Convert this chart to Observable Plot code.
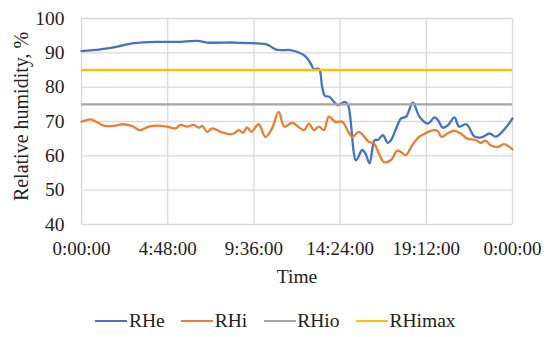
<!DOCTYPE html>
<html>
<head>
<meta charset="utf-8">
<script src="https://cdn.jsdelivr.net/npm/d3@7"></script>
<script src="https://cdn.jsdelivr.net/npm/@observablehq/plot@0.6"></script>
<style>
  body { margin: 0; background: #fff; }
  #chart, #chart * { font-family: "Liberation Serif", "Times New Roman", Tinos, "DejaVu Serif", serif !important; }
  #chart { width: 550px; height: 337px; position: relative; }
  .legend { display: flex; justify-content: center; align-items: center; font-size: 19.5px; color: #222; margin-top: 20px; margin-left: 1px; line-height: 22px; }
  .legend .item { display: flex; align-items: center; margin: 0 8.25px; }
  .legend .sw { width: 32px; height: 0; border-top: 2.5px solid; margin-right: 1.5px; }
</style>
</head>
<body>
<div id="chart"></div>
<script>
// Time in hours from midnight
const rheTime = [0, 1.06, 1.99, 2.91, 4.2, 5.33, 6.44, 7.0, 8.48, 9.6, 10.34, 10.8, 11.17, 11.64, 12.1, 12.47, 12.75, 12.94, 13.22, 13.4, 13.55, 13.8, 14.27, 14.65, 14.84, 15.29, 15.63, 15.81, 16.04, 16.32, 16.5, 16.78, 17.06, 17.24, 17.8, 18.08, 18.45, 18.82, 19.29, 19.66, 19.85, 20.12, 20.4, 20.77, 21.02, 21.43, 21.89, 22.27, 22.73, 23.07, 23.67, 24.0];
const rheValue = [90.5, 91.0, 91.8, 92.8, 93.2, 93.2, 93.5, 93.0, 93.0, 92.8, 92.4, 91.0, 90.8, 90.8, 90.1, 89.0, 87.0, 85.3, 85.3, 80.1, 77.5, 77.2, 74.8, 75.7, 74.8, 58.7, 61.7, 60.7, 57.8, 64.6, 64.6, 66.0, 63.8, 64.6, 70.9, 71.4, 75.5, 71.4, 69.4, 71.2, 70.4, 68.2, 68.9, 71.2, 68.5, 69.2, 65.6, 65.4, 66.5, 65.6, 68.5, 70.9];

const rhiTime = [0, 0.5, 1.24, 1.8, 2.27, 2.82, 3.25, 3.75, 4.22, 4.77, 5.24, 5.51, 5.88, 6.25, 6.53, 6.72, 7.0, 7.28, 7.74, 8.3, 8.48, 8.76, 9.0, 9.22, 9.45, 9.87, 10.24, 10.61, 10.98, 11.3, 11.73, 12.38, 12.66, 12.94, 13.22, 13.5, 13.77, 14.15, 14.52, 15.07, 15.44, 16.0, 16.28, 16.56, 16.84, 17.21, 17.58, 17.77, 18.05, 18.42, 18.79, 19.07, 19.44, 19.81, 20.05, 20.37, 20.74, 21.12, 21.49, 21.95, 22.22, 22.5, 22.78, 23.2, 23.52, 24.0];
const rhiValue = [69.9, 70.6, 68.8, 68.7, 69.2, 68.7, 67.5, 68.5, 68.8, 68.5, 68.0, 69.0, 68.5, 69.0, 68.2, 68.7, 67.0, 68.0, 67.0, 66.3, 66.5, 67.5, 66.7, 68.3, 67.0, 69.2, 65.5, 68.0, 72.8, 68.5, 69.6, 67.5, 69.4, 67.5, 68.5, 67.5, 71.4, 69.9, 69.9, 65.5, 67.0, 64.1, 63.6, 60.7, 58.2, 58.7, 61.5, 61.2, 60.2, 63.1, 65.5, 66.3, 67.3, 67.3, 65.5, 66.5, 67.3, 66.5, 65.0, 64.6, 63.8, 64.4, 63.1, 62.6, 63.4, 61.9];

const rhioValue = 75;
const rhimaxValue = 85;

const xTicks = [0, 4.8, 9.6, 14.4, 19.2, 24];
const xTickLabels = ["0:00:00", "4:48:00", "9:36:00", "14:24:00", "19:12:00", "0:00:00"];
const yTicks = [40, 50, 60, 70, 80, 90, 100];

const seriesNames = ["RHe", "RHi", "RHio", "RHimax"];
const seriesColors = ["#4472C4", "#ED7D31", "#A5A5A5", "#FFC000"];

const rhe = rheTime.map((t, i) => ({t, v: rheValue[i]}));
const rhi = rhiTime.map((t, i) => ({t, v: rhiValue[i]}));

const serif = "'Liberation Serif', 'Times New Roman', Tinos, 'DejaVu Serif', serif";

const plot = Plot.plot({
  width: 550,
  height: 290,
  marginTop: 18,
  marginBottom: 66,
  marginLeft: 81,
  marginRight: 38,
  style: { fontFamily: serif, fontSize: "19px", color: "#222", background: "transparent" },
  x: { domain: [0, 24], ticks: xTicks, tickFormat: (d, i) => xTickLabels[i], tickSize: 0, tickPadding: 17, label: null },
  y: { domain: [40, 100], ticks: yTicks, tickSize: 0, tickPadding: 17, label: null },
  marks: [
    Plot.gridY(yTicks, { stroke: "#d9d9d9", strokeOpacity: 1, strokeWidth: 1.3 }),
    Plot.gridX(xTicks, { stroke: "#d9d9d9", strokeOpacity: 1, strokeWidth: 1.3 }),
    Plot.axisX(xTicks, { tickFormat: (d, i) => xTickLabels[i], tickSize: 0, tickPadding: 17, label: null, fontSize: 19 }),
    Plot.axisY(yTicks, { tickSize: 0, tickPadding: 17, label: null, fontSize: 19.5 }),
    Plot.line(rhe, { x: "t", y: "v", stroke: seriesColors[0], strokeWidth: 2.3, curve: "catmull-rom" }),
    Plot.line(rhi, { x: "t", y: "v", stroke: seriesColors[1], strokeWidth: 2.3, curve: "catmull-rom" }),
    Plot.ruleY([rhioValue], { stroke: seriesColors[2], strokeWidth: 2.3 }),
    Plot.ruleY([rhimaxValue], { stroke: seriesColors[3], strokeWidth: 2.3 }),
    Plot.text(["Time"], { frameAnchor: "bottom", dy: 58, lineAnchor: "bottom", textAnchor: "middle", fontSize: 19.5, fill: "#222" }),
    Plot.text(["Relative humidity, %"], { frameAnchor: "left", dx: -60, dy: -5, rotate: -90, textAnchor: "middle", lineAnchor: "middle", fontSize: 20, fill: "#222" })
  ]
});

const chart = document.getElementById("chart");
chart.appendChild(plot);

const legend = document.createElement("div");
legend.className = "legend";
seriesNames.forEach((name, i) => {
  const item = document.createElement("div");
  item.className = "item";
  const sw = document.createElement("span");
  sw.className = "sw";
  sw.style.borderTopColor = seriesColors[i];
  const lab = document.createElement("span");
  lab.textContent = name;
  item.appendChild(sw);
  item.appendChild(lab);
  legend.appendChild(item);
});
chart.appendChild(legend);
</script>
</body>
</html>
